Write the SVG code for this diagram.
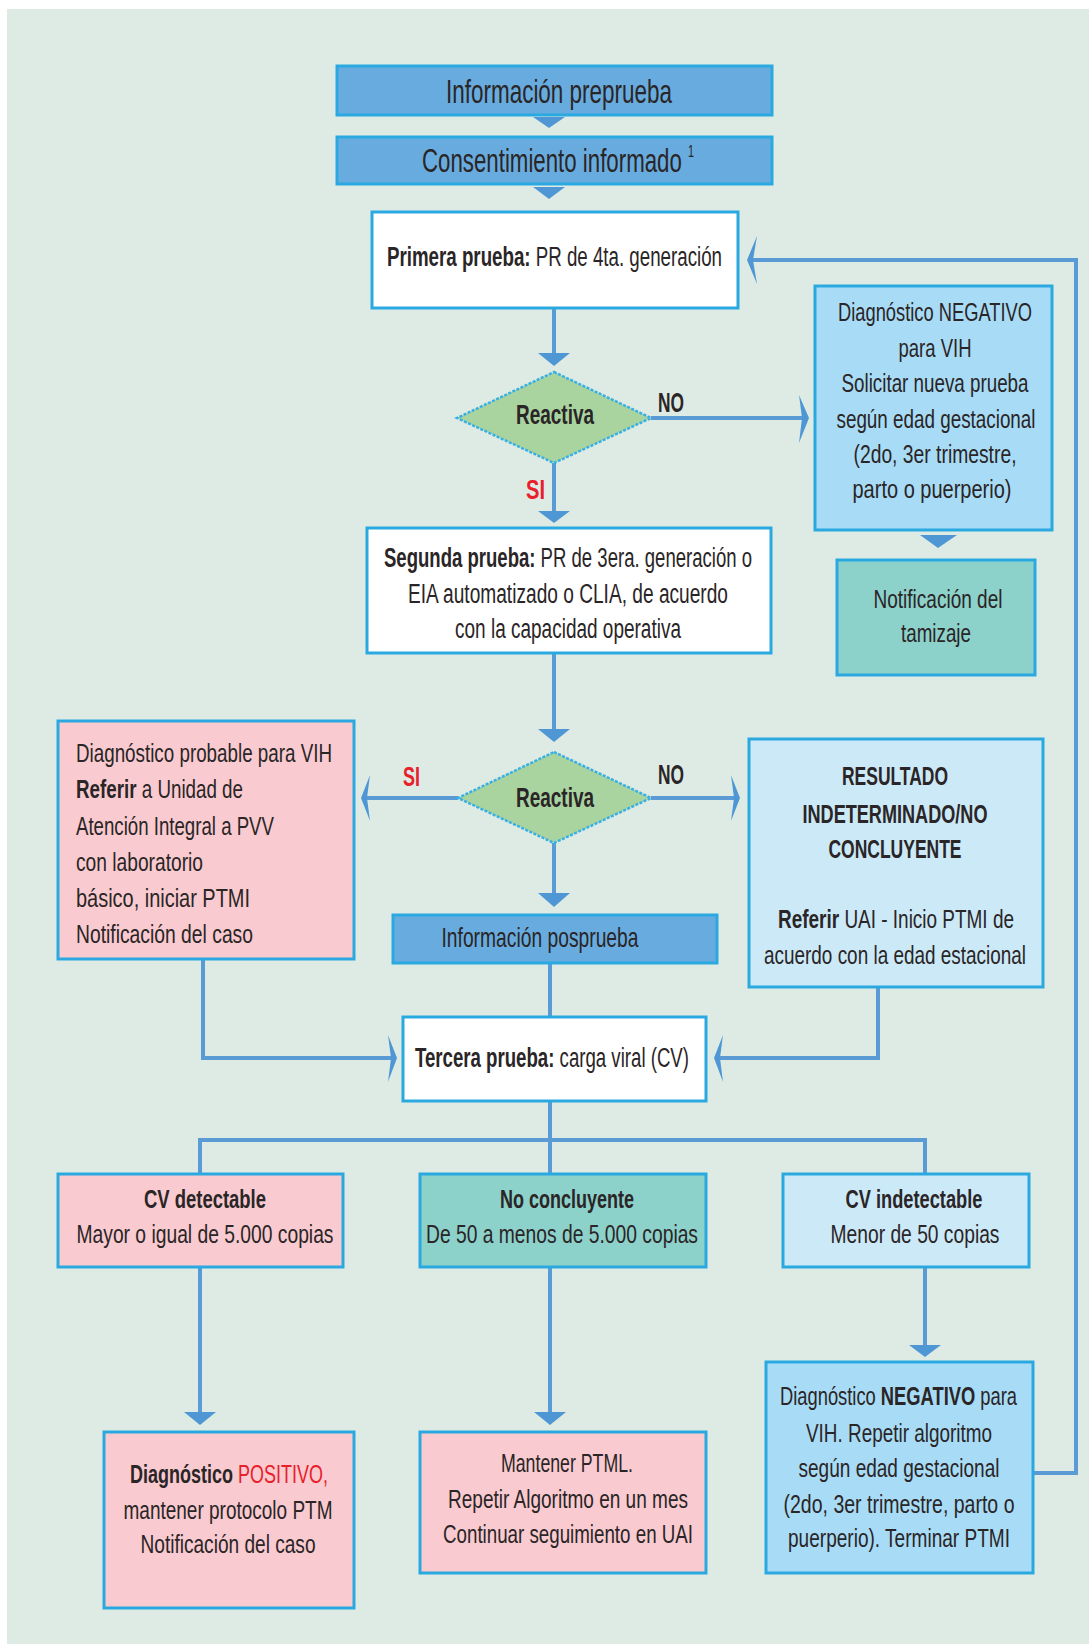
<svg xmlns="http://www.w3.org/2000/svg" width="1089" height="1644" viewBox="0 0 1089 1644">
<defs>
<style>
text{font-family:"Liberation Sans Narrow","Liberation Sans",Arial,sans-serif;fill:#2a2526;font-size:25px}
.b{font-weight:bold}
.r{fill:#e8202a}
.t{font-size:33px}
.p{font-size:27px}
.m{text-anchor:middle}
.box{stroke:#2aa9e1;stroke-width:3}
.dk{fill:#68acdf}
.wh{fill:#ffffff}
.pk{fill:#f9cbd0}
.tl{fill:#8dd1cb}
.lb{fill:#a8dcf6}
.xb{fill:#cce9f8}
.con path,.con line{stroke:#5a9bd5;stroke-width:4;fill:none}
.con polygon{fill:#4f97d4;stroke:none}
</style>
</defs>
<rect x="0" y="0" width="1089" height="1644" fill="#ffffff"/>
<rect x="7" y="9" width="1082" height="1635" fill="#deebe5"/>

<g id="connectors" class="con">
<polygon points="533,117 565,117 549,128"/>
<polygon points="533,187 565,187 549,199"/>
<line x1="554" y1="308" x2="554" y2="355"/>
<polygon points="538,353 570,353 554,366"/>
<line x1="651" y1="418" x2="803" y2="418"/>
<polygon points="809,418 799,395 802,418 799,443"/>
<line x1="554" y1="463" x2="554" y2="513"/>
<polygon points="538,511 570,511 554,523"/>
<polygon points="920,535 957,535 938,548"/>
<line x1="554" y1="653" x2="554" y2="731"/>
<polygon points="538,729 570,729 554,742"/>
<line x1="458" y1="798" x2="366" y2="798"/>
<polygon points="361,798 370,775 367,798 370,821"/>
<line x1="651" y1="798" x2="735" y2="798"/>
<polygon points="740,798 731,775 734,798 731,821"/>
<line x1="554" y1="843" x2="554" y2="895"/>
<polygon points="538,893 570,893 554,907"/>
<line x1="550" y1="963" x2="550" y2="1017"/>
<path d="M203,960 V1058 H392"/>
<polygon points="397,1058 388,1035 391,1058 388,1082"/>
<path d="M878,988 V1058 H719"/>
<polygon points="714,1058 723,1035 720,1058 723,1082"/>
<path d="M550,1101 V1140"/>
<path d="M200,1174 V1140 H925 V1174"/>
<line x1="550" y1="1140" x2="550" y2="1174"/>
<line x1="200" y1="1267" x2="200" y2="1414"/>
<polygon points="184,1412 216,1412 200,1425"/>
<line x1="550" y1="1267" x2="550" y2="1414"/>
<polygon points="534,1412 566,1412 550,1425"/>
<line x1="925" y1="1267" x2="925" y2="1347"/>
<polygon points="909,1345 941,1345 925,1357"/>
<path d="M1033,1473 H1076 V260 H752"/>
<polygon points="747,260 757,236 753,260 757,284"/>
</g>

<g id="info-preprueba">
<rect class="box dk" x="337" y="66" width="435" height="49"/>
<text class="t m" x="559" y="103" textLength="226" lengthAdjust="spacingAndGlyphs">Información preprueba</text>
</g>

<g id="consentimiento">
<rect class="box dk" x="337" y="137" width="435" height="47"/>
<text class="t" x="422" y="172" textLength="272" lengthAdjust="spacingAndGlyphs">Consentimiento informado <tspan dy="-15" style="font-size:16px">1</tspan></text>
</g>

<g id="primera-prueba">
<rect class="box wh" x="372" y="212" width="366" height="96"/>
<text class="p" x="387" y="266" textLength="335" lengthAdjust="spacingAndGlyphs"><tspan class="b">Primera prueba:</tspan> PR de 4ta. generación</text>
</g>

<g id="reactiva-1">
<polygon points="554,372 651,418 554,463 457,418" fill="#a9d4a0" stroke="#39b0e4" stroke-width="2.5" stroke-dasharray="3 1.5"/>
<text class="b m" x="555" y="424" style="font-size:28px" textLength="78" lengthAdjust="spacingAndGlyphs">Reactiva</text>
<text class="b" x="658" y="412" style="font-size:28px" textLength="26" lengthAdjust="spacingAndGlyphs">NO</text>
<text class="b r" x="526" y="499" style="font-size:28px" textLength="19" lengthAdjust="spacingAndGlyphs">SI</text>
</g>

<g id="negativo-1">
<rect class="box lb" x="815" y="286" width="237" height="244"/>
<text class="m" x="935" y="321" textLength="194" lengthAdjust="spacingAndGlyphs">Diagnóstico NEGATIVO</text>
<text class="m" x="935" y="357" textLength="73" lengthAdjust="spacingAndGlyphs">para VIH</text>
<text class="m" x="935" y="392" textLength="187" lengthAdjust="spacingAndGlyphs">Solicitar nueva prueba</text>
<text class="m" x="936" y="428" textLength="199" lengthAdjust="spacingAndGlyphs">según edad gestacional</text>
<text class="m" x="935" y="463" textLength="163" lengthAdjust="spacingAndGlyphs">(2do, 3er trimestre,</text>
<text class="m" x="932" y="498" textLength="159" lengthAdjust="spacingAndGlyphs">parto  o puerperio)</text>
</g>

<g id="notificacion-tamizaje">
<rect class="box tl" x="837" y="560" width="198" height="115"/>
<text class="m" x="938" y="608" textLength="129" lengthAdjust="spacingAndGlyphs">Notificación del</text>
<text class="m" x="936" y="642" textLength="70" lengthAdjust="spacingAndGlyphs">tamizaje</text>
</g>

<g id="segunda-prueba">
<rect class="box wh" x="367" y="528" width="404" height="125"/>
<text class="p" x="384" y="567" textLength="368" lengthAdjust="spacingAndGlyphs"><tspan class="b">Segunda prueba:</tspan> PR de 3era. generación o</text>
<text class="p m" x="568" y="603" textLength="320" lengthAdjust="spacingAndGlyphs">EIA automatizado o CLIA,  de acuerdo</text>
<text class="p m" x="568" y="638" textLength="226" lengthAdjust="spacingAndGlyphs">con la capacidad operativa</text>
</g>

<g id="reactiva-2">
<polygon points="554,752 651,798 554,843 458,798" fill="#a9d4a0" stroke="#39b0e4" stroke-width="2.5" stroke-dasharray="3 1.5"/>
<text class="b m" x="555" y="807" style="font-size:28px" textLength="78" lengthAdjust="spacingAndGlyphs">Reactiva</text>
<text class="b r" x="403" y="786" style="font-size:28px" textLength="17" lengthAdjust="spacingAndGlyphs">SI</text>
<text class="b" x="658" y="784" style="font-size:28px" textLength="26" lengthAdjust="spacingAndGlyphs">NO</text>
</g>

<g id="probable">
<rect class="box pk" x="58" y="721" width="296" height="238"/>
<text x="76" y="762" textLength="256" lengthAdjust="spacingAndGlyphs">Diagnóstico probable para VIH</text>
<text x="76" y="798" textLength="167" lengthAdjust="spacingAndGlyphs"><tspan class="b">Referir</tspan> a Unidad de</text>
<text x="76" y="835" textLength="198" lengthAdjust="spacingAndGlyphs">Atención Integral a PVV</text>
<text x="76" y="871" textLength="127" lengthAdjust="spacingAndGlyphs">con laboratorio</text>
<text x="76" y="907" textLength="174" lengthAdjust="spacingAndGlyphs">básico,  iniciar PTMI</text>
<text x="76" y="943" textLength="177" lengthAdjust="spacingAndGlyphs">Notificación del caso</text>
</g>

<g id="indeterminado">
<rect class="box xb" x="749" y="739" width="294" height="248"/>
<text class="b m" x="895" y="785" textLength="106" lengthAdjust="spacingAndGlyphs">RESULTADO</text>
<text class="b m" x="895" y="823" textLength="185" lengthAdjust="spacingAndGlyphs">INDETERMINADO/NO</text>
<text class="b m" x="895" y="858" textLength="133" lengthAdjust="spacingAndGlyphs">CONCLUYENTE</text>
<text x="778" y="928" textLength="236" lengthAdjust="spacingAndGlyphs"><tspan class="b">Referir</tspan> UAI - Inicio PTMI de</text>
<text class="m" x="895" y="964" textLength="262" lengthAdjust="spacingAndGlyphs">acuerdo con la edad estacional</text>
</g>

<g id="info-posprueba">
<rect class="box dk" x="393" y="915" width="324" height="48"/>
<text class="m" x="540" y="947" style="font-size:28px" textLength="197" lengthAdjust="spacingAndGlyphs">Información posprueba</text>
</g>

<g id="tercera-prueba">
<rect class="box wh" x="403" y="1017" width="303" height="84"/>
<text class="p" x="415" y="1067" textLength="274" lengthAdjust="spacingAndGlyphs"><tspan class="b">Tercera prueba:</tspan> carga viral (CV)</text>
</g>

<g id="cv-detectable">
<rect class="box pk" x="58" y="1174" width="285" height="93"/>
<text class="b m" x="205" y="1208" textLength="122" lengthAdjust="spacingAndGlyphs">CV detectable</text>
<text class="m" x="205" y="1243" textLength="257" lengthAdjust="spacingAndGlyphs">Mayor o igual de 5.000 copias</text>
</g>

<g id="no-concluyente">
<rect class="box tl" x="420" y="1174" width="286" height="93"/>
<text class="b m" x="567" y="1208" textLength="134" lengthAdjust="spacingAndGlyphs">No concluyente</text>
<text class="m" x="562" y="1243" textLength="272" lengthAdjust="spacingAndGlyphs">De 50 a menos de 5.000 copias</text>
</g>

<g id="cv-indetectable">
<rect class="box xb" x="783" y="1174" width="246" height="93"/>
<text class="b m" x="914" y="1208" textLength="137" lengthAdjust="spacingAndGlyphs">CV indetectable</text>
<text class="m" x="915" y="1243" textLength="169" lengthAdjust="spacingAndGlyphs">Menor de 50 copias</text>
</g>

<g id="positivo">
<rect class="box pk" x="104" y="1432" width="250" height="176"/>
<text x="130" y="1483" textLength="198" lengthAdjust="spacingAndGlyphs"><tspan class="b">Diagnóstico</tspan> <tspan class="r">POSITIVO,</tspan></text>
<text class="m" x="228" y="1519" textLength="209" lengthAdjust="spacingAndGlyphs">mantener protocolo PTM</text>
<text class="m" x="228" y="1553" textLength="175" lengthAdjust="spacingAndGlyphs">Notificación del caso</text>
</g>

<g id="mantener">
<rect class="box pk" x="420" y="1432" width="286" height="141"/>
<text class="m" x="567" y="1472" textLength="132" lengthAdjust="spacingAndGlyphs">Mantener PTML.</text>
<text class="m" x="568" y="1508" textLength="240" lengthAdjust="spacingAndGlyphs">Repetir Algoritmo en un mes</text>
<text class="m" x="568" y="1543" textLength="250" lengthAdjust="spacingAndGlyphs">Continuar seguimiento en UAI</text>
</g>

<g id="negativo-2">
<rect class="box lb" x="766" y="1362" width="267" height="211"/>
<text x="780" y="1405" textLength="237" lengthAdjust="spacingAndGlyphs">Diagnóstico <tspan class="b">NEGATIVO</tspan> para</text>
<text class="m" x="899" y="1442" textLength="186" lengthAdjust="spacingAndGlyphs">VIH. Repetir algoritmo</text>
<text class="m" x="899" y="1477" textLength="201" lengthAdjust="spacingAndGlyphs">según edad gestacional</text>
<text class="m" x="899" y="1513" textLength="231" lengthAdjust="spacingAndGlyphs">(2do, 3er trimestre, parto o</text>
<text class="m" x="899" y="1547" textLength="222" lengthAdjust="spacingAndGlyphs">puerperio). Terminar PTMI</text>
</g>
</svg>
